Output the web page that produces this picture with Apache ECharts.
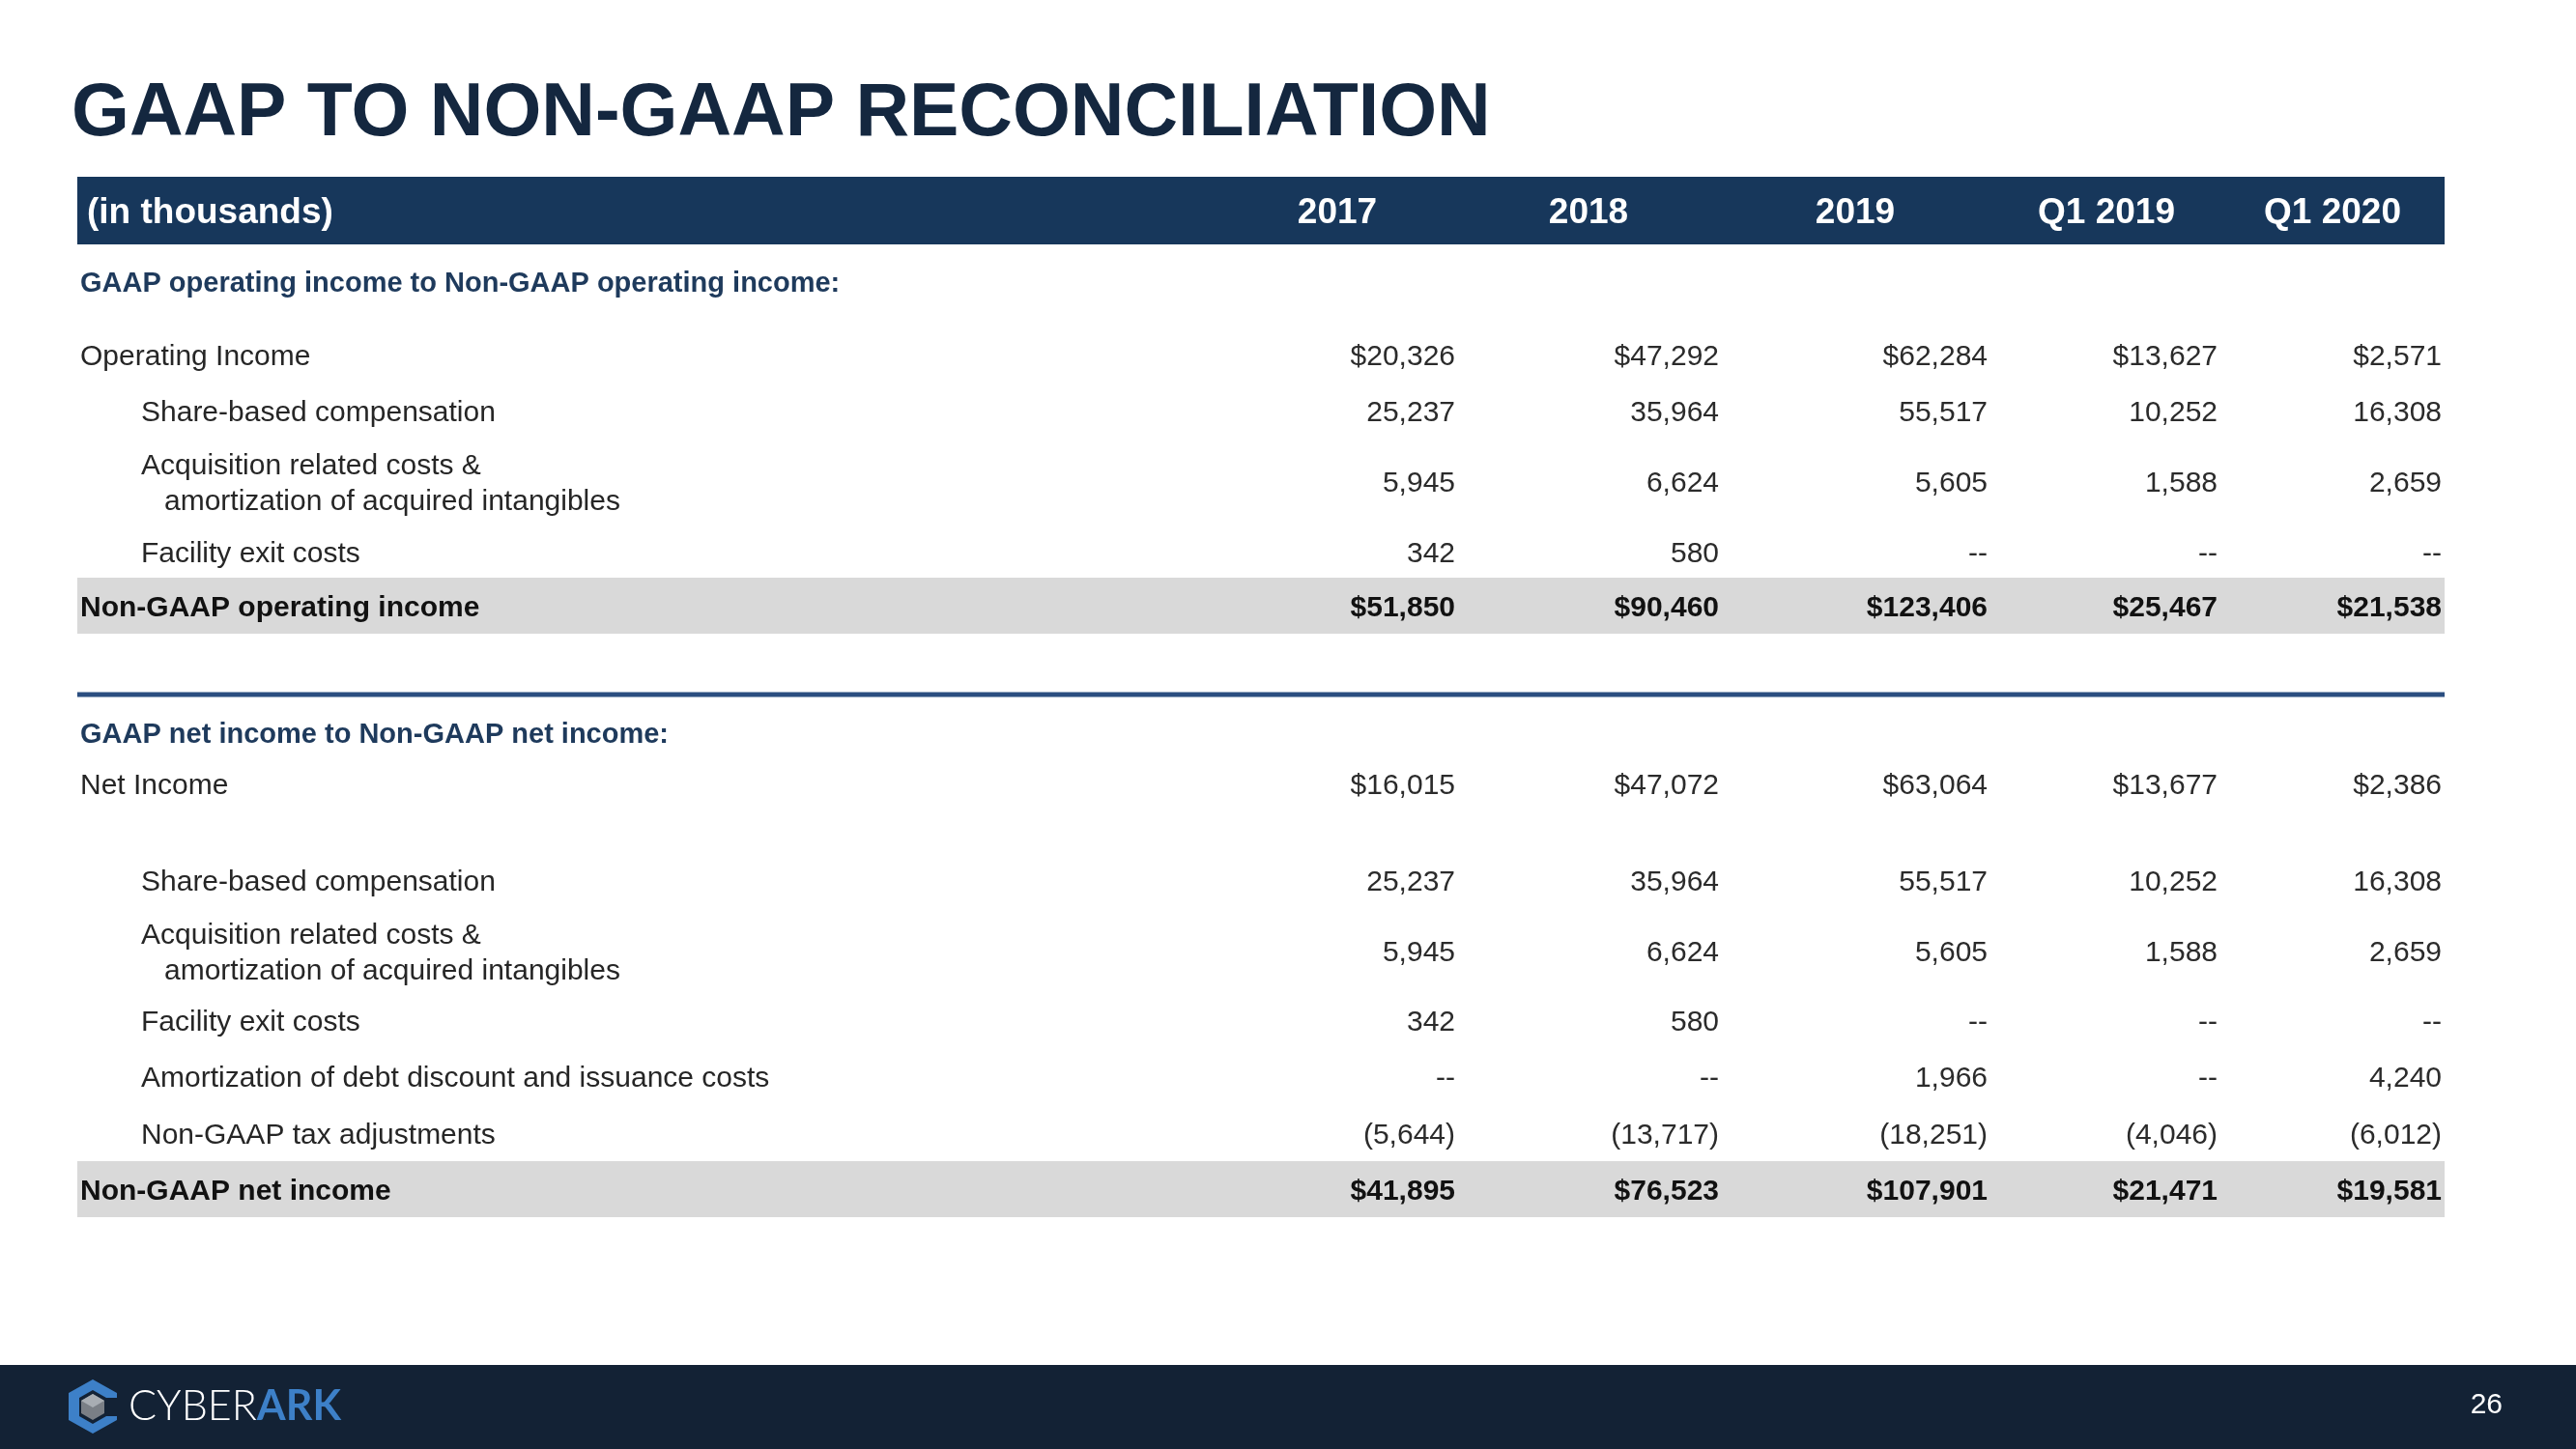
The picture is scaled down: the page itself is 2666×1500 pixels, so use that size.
<!DOCTYPE html>
<html>
<head>
<meta charset="utf-8">
<script src="https://cdn.jsdelivr.net/npm/echarts@6/dist/echarts.min.js"></script>
<style>
html,body{margin:0;padding:0;background:#ffffff;}
#chart{width:2666px;height:1500px;}
</style>
</head>
<body>
<div id="chart"></div>
<script>
// ---------------- DATA ----------------
const titleText = 'GAAP TO NON-GAAP RECONCILIATION';
const unitLabel = '(in thousands)';
const columns = ['2017', '2018', '2019', 'Q1 2019', 'Q1 2020'];

const section1Title = 'GAAP operating income to Non-GAAP operating income:';
const section2Title = 'GAAP net income to Non-GAAP net income:';

const labelOperatingIncome = 'Operating Income';
const labelShareBased = 'Share-based compensation';
const labelAcquisition = ['Acquisition related costs &', 'amortization of acquired intangibles'];
const labelFacility = 'Facility exit costs';
const labelNonGaapOperating = 'Non-GAAP operating income';
const labelNetIncome = 'Net Income';
const labelDebtAmortization = 'Amortization of debt discount and issuance costs';
const labelTaxAdjustments = 'Non-GAAP tax adjustments';
const labelNonGaapNet = 'Non-GAAP net income';

const operatingIncome      = [20326, 47292, 62284, 13627, 2571];
const shareBasedComp       = [25237, 35964, 55517, 10252, 16308];
const acquisitionCosts     = [5945, 6624, 5605, 1588, 2659];
const facilityExitCosts    = [342, 580, null, null, null];
const nonGaapOperatingInc  = [51850, 90460, 123406, 25467, 21538];
const netIncome            = [16015, 47072, 63064, 13677, 2386];
const debtAmortization     = [null, null, 1966, null, 4240];
const taxAdjustments       = [-5644, -13717, -18251, -4046, -6012];
const nonGaapNetIncome     = [41895, 76523, 107901, 21471, 19581];

const pageNumber = '26';

// ---------------- TABLE STRUCTURE ----------------
const rows = [
  { kind: 'header' },
  { kind: 'section', text: section1Title },
  { kind: 'item', label: labelOperatingIncome, values: operatingIncome, dollar: true, level: 0 },
  { kind: 'item', label: labelShareBased, values: shareBasedComp, level: 1 },
  { kind: 'item', label: labelAcquisition, values: acquisitionCosts, level: 1 },
  { kind: 'item', label: labelFacility, values: facilityExitCosts, level: 1 },
  { kind: 'total', label: labelNonGaapOperating, values: nonGaapOperatingInc, dollar: true, level: 0 },
  { kind: 'rule' },
  { kind: 'section', text: section2Title },
  { kind: 'item', label: labelNetIncome, values: netIncome, dollar: true, level: 0 },
  { kind: 'item', label: labelShareBased, values: shareBasedComp, level: 1 },
  { kind: 'item', label: labelAcquisition, values: acquisitionCosts, level: 1 },
  { kind: 'item', label: labelFacility, values: facilityExitCosts, level: 1 },
  { kind: 'item', label: labelDebtAmortization, values: debtAmortization, level: 1 },
  { kind: 'item', label: labelTaxAdjustments, values: taxAdjustments, level: 1 },
  { kind: 'total', label: labelNonGaapNet, values: nonGaapNetIncome, dollar: true, level: 0 }
];

// ---------------- LAYOUT (positions in page units) ----------------
const W = 2666, H = 1500;
const rowCenterY = [218, 291, 367, 425, 498, 571, 627, 719, 758, 811, 911, 984, 1056, 1114, 1173, 1231];
const bandCenterY = { 0: 218, 6: 627, 7: 719, 15: 1231 };
const textDy = 3;
const bandHalf = { header: 35, total: 29 };
const tableLeft = 80, tableRight = 2530;
const labelX = [83, 146];
const wrapIndent = 24, wrapGap = 37;
const valueRightX = [1506, 1779, 2057, 2295, 2527];
const headerCenterX = [1384, 1644, 1920, 2180, 2414];
const unitLabelX = 90;

const FONT = "'Liberation Sans', Arial, Helvetica, sans-serif";
const C = {
  title: '#14273F',
  header: '#17375B',
  section: '#1E3A5C',
  text: '#262626',
  value: '#2B2B2B',
  band: '#D9D9D9',
  rule: '#2B4E80',
  footer: '#132235'
};

function fmt(v, dollar) {
  if (v === null || v === undefined) return '--';
  let s = Math.abs(v).toLocaleString('en-US');
  if (dollar) s = '$' + s;
  if (v < 0) s = '(' + s + ')';
  return s;
}

// band data: which rows carry a background shape
const bandRows = [];
rows.forEach((r, i) => { if (r.kind === 'header' || r.kind === 'total' || r.kind === 'rule') bandRows.push(i); });

// cell data: [columnIndex (-1 = label), rowIndex]
const cellData = [];
rows.forEach((r, i) => {
  if (r.kind === 'header') {
    cellData.push([-1, i]);
    columns.forEach((_, c) => cellData.push([c, i]));
  } else if (r.kind === 'section') {
    cellData.push([-1, i]);
  } else if (r.kind === 'item' || r.kind === 'total') {
    cellData.push([-1, i]);
    r.values.forEach((_, c) => cellData.push([c, i]));
  }
});

function renderBand(params, api) {
  const r = api.value(0);
  const row = rows[r];
  const yc = rowCenterY[r];
  if (row.kind === 'rule') {
    const a = api.coord([tableLeft, yc - 2.5]);
    const b = api.coord([tableRight, yc + 2.5]);
    return { type: 'rect', shape: { x: a[0], y: a[1], width: b[0] - a[0], height: b[1] - a[1] }, style: { fill: C.rule } };
  }
  const half = row.kind === 'header' ? bandHalf.header : bandHalf.total;
  const a = api.coord([tableLeft, yc - half]);
  const b = api.coord([tableRight, yc + half]);
  return {
    type: 'rect',
    shape: { x: a[0], y: a[1], width: b[0] - a[0], height: b[1] - a[1] },
    style: { fill: row.kind === 'header' ? C.header : C.band }
  };
}

function textEl(p, text, font, fill, align) {
  return { type: 'text', x: p[0], y: p[1], style: { text: text, font: font, fill: fill, align: align, verticalAlign: 'middle' } };
}

function renderCell(params, api) {
  const c = api.value(0);
  const r = api.value(1);
  const row = rows[r];
  const yc = rowCenterY[r] + textDy;
  if (row.kind === 'header') {
    const font = 'bold 37px ' + FONT;
    if (c < 0) return textEl(api.coord([unitLabelX, yc]), unitLabel, font, '#FFFFFF', 'left');
    return textEl(api.coord([headerCenterX[c], yc]), columns[c], font, '#FFFFFF', 'center');
  }
  if (row.kind === 'section') {
    return textEl(api.coord([labelX[0], yc]), row.text, 'bold 29px ' + FONT, C.section, 'left');
  }
  const bold = row.kind === 'total';
  const font = (bold ? 'bold ' : '') + '30px ' + FONT;
  if (c < 0) {
    const x = labelX[row.level];
    if (Array.isArray(row.label)) {
      const p1 = api.coord([x, yc - wrapGap / 2]);
      const p2 = api.coord([x + wrapIndent, yc + wrapGap / 2]);
      return {
        type: 'group',
        children: [
          textEl(p1, row.label[0], font, C.text, 'left'),
          textEl(p2, row.label[1], font, C.text, 'left')
        ]
      };
    }
    return textEl(api.coord([x, yc]), row.label, font, bold ? '#111111' : C.text, 'left');
  }
  return textEl(api.coord([valueRightX[c], yc]), fmt(row.values[c], row.dollar), font, bold ? '#111111' : C.value, 'right');
}

const chart = echarts.init(document.getElementById('chart'), null, { renderer: 'canvas' });

chart.setOption({
  backgroundColor: '#FFFFFF',
  animation: false,
  title: {
    text: titleText,
    left: 74,
    top: 80,
    padding: 0,
    textStyle: { fontFamily: FONT, fontWeight: 'bold', fontSize: 77, color: C.title, lineHeight: 78 }
  },
  grid: { left: 0, right: 0, top: 0, bottom: 0 },
  xAxis: { type: 'value', min: 0, max: W, show: false },
  yAxis: { type: 'value', min: 0, max: H, inverse: true, show: false },
  tooltip: { show: false },
  series: [
    {
      type: 'custom',
      name: 'bands',
      renderItem: renderBand,
      data: bandRows.map(i => [i]),
      encode: { x: -1, y: -1 },
      silent: true,
      z: 1
    },
    {
      type: 'custom',
      name: 'cells',
      renderItem: renderCell,
      data: cellData,
      encode: { x: -1, y: -1 },
      silent: true,
      z: 2
    }
  ],
  graphic: [
    { type: 'rect', left: 0, top: 1413, shape: { width: W, height: H - 1413 }, style: { fill: C.footer }, z: 0 },
    // logo mark
    { type: 'polygon', shape: { points: [[96, 1428], [121, 1442], [121, 1447], [110, 1447], [96, 1439], [82, 1447], [82, 1466], [96, 1474], [110, 1466], [121, 1466], [121, 1470], [96, 1484], [71, 1470], [71, 1442]] }, style: { fill: '#3D80C8' }, z: 10 },
    { type: 'polygon', shape: { points: [[96, 1443], [108, 1450], [108, 1463], [96, 1470], [84, 1463], [84, 1450]] }, style: { fill: '#7A7F86' }, z: 10 },
    { type: 'polygon', shape: { points: [[96, 1443], [108, 1450], [96, 1457], [84, 1450]] }, style: { fill: '#A8ADB3' }, z: 11 },
    {
      type: 'text', left: 133, top: 1435, z: 10,
      style: {
        text: '{a|CYBER}{b|ARK}',
        rich: {
          a: { fontFamily: "'Lato', 'Liberation Sans', sans-serif", fontWeight: 300, fontSize: 43, fill: '#FFFFFF' },
          b: { fontFamily: "'Lato', 'Liberation Sans', sans-serif", fontWeight: 'bold', fontSize: 43, fill: '#3D80C8' }
        }
      }
    },
    {
      type: 'text', right: 2666 - 2590, top: 1440, z: 10,
      style: { text: pageNumber, font: '30px ' + FONT, fill: '#FFFFFF' }
    }
  ]
});
</script>
</body>
</html>
